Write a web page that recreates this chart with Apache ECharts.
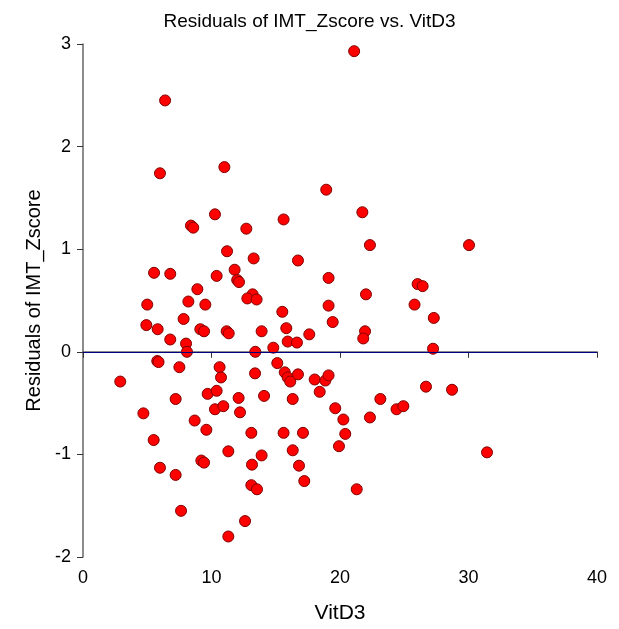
<!DOCTYPE html>
<html><head><meta charset="utf-8">
<script src="https://cdn.jsdelivr.net/npm/echarts@6/dist/echarts.min.js"></script>
<style>html,body{margin:0;padding:0;background:#fff}#c{width:619px;height:629px}</style>
</head><body><div id="c"></div>
<script>
const vitD3 = [6.39,5.99,11.0,21.1,18.93,21.74,10.27,8.40,8.58,12.71,11.21,13.28,5.53,6.79,10.40,11.80,12.0,12.14,8.90,13.2,12.79,13.51,5.0,8.2,9.52,7.83,4.93,5.81,6.79,8.02,8.09,9.13,9.42,11.18,11.34,13.41,5.78,5.88,7.5,10.63,13.39,2.9,10.74,15.61,22.33,16.73,19.11,22.02,26.04,26.43,19.11,25.8,15.51,19.43,27.3,13.9,15.82,15.93,16.65,17.61,21.95,21.81,14.81,27.24,15.12,15.70,15.93,16.13,16.73,18.03,18.86,19.11,18.42,14.09,16.32,26.69,23.14,24.4,24.93,19.63,20.26,22.33,13.1,15.61,17.12,20.41,16.32,19.92,13.9,13.15,16.81,17.22,13.1,13.54,21.3,28.72,31.44,30.04,7.21,9.7,10.4,12.11,4.7,10.27,10.92,12.22,8.69,9.6,5.5,11.31,9.21,9.42,5.99,7.21,7.63,12.61,11.31];
const residuals = [2.45,1.74,1.80,2.93,1.58,1.36,1.34,1.23,1.21,1.20,0.98,0.91,0.77,0.76,0.74,0.80,0.70,0.68,0.61,0.56,0.52,0.51,0.46,0.49,0.46,0.32,0.26,0.22,0.12,0.08,0.00,0.22,0.20,0.20,0.18,0.00,-0.09,-0.10,-0.15,-0.15,-0.21,-0.29,-0.25,1.29,1.04,0.89,0.72,0.56,0.66,0.64,0.45,0.46,0.39,0.29,0.33,0.20,0.23,0.10,0.09,0.17,0.20,0.13,0.04,0.03,-0.11,-0.20,-0.25,-0.29,-0.22,-0.27,-0.28,-0.23,-0.39,-0.43,-0.46,-0.34,-0.46,-0.56,-0.53,-0.55,-0.66,-0.64,-0.79,-0.79,-0.79,-0.80,-0.96,-0.92,-1.01,-1.10,-1.11,-1.26,-1.30,-1.34,-1.34,-0.37,-0.98,1.04,-0.46,-0.41,-0.38,-0.45,-0.60,-0.56,-0.53,-0.59,-0.67,-0.76,-0.86,-0.97,-1.06,-1.08,-1.13,-1.20,-1.55,-1.65,-1.80];
const xTicks = [0,10,20,30,40];
const yTicks = [-2,-1,0,1,2,3];
const points = vitD3.map((v,i)=>[v,residuals[i]]);
const font = '"Liberation Sans", Arial, sans-serif';
const chart = echarts.init(document.getElementById('c'), null, {renderer:'canvas'});
chart.setOption({
  animation:false,
  backgroundColor:'#fff',
  title:{text:'Residuals of IMT_Zscore vs. VitD3',left:'center',top:7,textStyle:{fontFamily:font,fontSize:19,fontWeight:'normal',color:'#000'}},
  grid:{left:83,right:22,top:44,bottom:71,containLabel:false},
  xAxis:{type:'value',min:xTicks[0],max:xTicks[xTicks.length-1],interval:10,
    name:'VitD3',nameLocation:'middle',nameGap:46,nameTextStyle:{fontFamily:font,fontSize:21,color:'#000'},
    axisLine:{lineStyle:{color:'#666',width:1.5}},axisTick:{show:true,length:6,lineStyle:{color:'#333'}},
    axisLabel:{fontFamily:font,fontSize:18,color:'#000',margin:12},splitLine:{show:false}},
  yAxis:{type:'value',min:yTicks[0],max:yTicks[yTicks.length-1],interval:1,
    name:'Residuals of IMT_Zscore',nameLocation:'middle',nameGap:34,nameTextStyle:{fontFamily:font,fontSize:20,color:'#000'},
    axisLine:{show:true,lineStyle:{color:'#666',width:1.5}},axisTick:{show:true,length:6,lineStyle:{color:'#333'}},
    axisLabel:{fontFamily:font,fontSize:18,color:'#000',margin:12},splitLine:{show:false}},
  series:[{type:'scatter',data:points,symbol:'circle',symbolSize:11,
    itemStyle:{color:'#ff0000',borderColor:'#800000',borderWidth:1,opacity:1},
    markLine:{silent:true,symbol:'none',label:{show:false},lineStyle:{color:'#000080',width:1,type:'solid'},data:[{yAxis:0}]}}]
});
</script></body></html>
